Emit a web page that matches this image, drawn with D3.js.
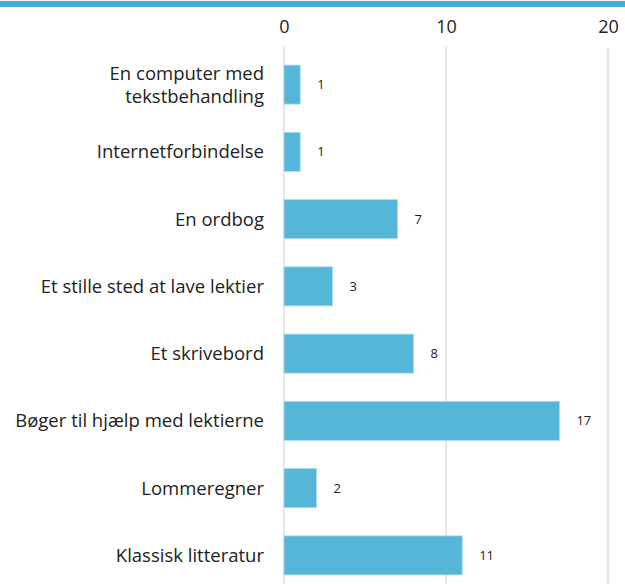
<!DOCTYPE html>
<html>
<head>
<meta charset="utf-8">
<script src="https://cdn.jsdelivr.net/npm/d3@7"></script>
<style>
  body { margin: 0; background: #fff; }
  svg { font-family: "Open Sans", sans-serif; display: block; }
</style>
</head>
<body>
<div id="chart"></div>
<script>
// data
const categories = [
  "En computer med|tekstbehandling",
  "Internetforbindelse",
  "En ordbog",
  "Et stille sted at lave lektier",
  "Et skrivebord",
  "Bøger til hjælp med lektierne",
  "Lommeregner",
  "Klassisk litteratur"
];
const values = [1, 1, 7, 3, 8, 17, 2, 11];
const xTicks = [0, 10, 20];

const width = 625, height = 584;
const margins = { top: 51, bottom: -5, left: 284, right: 17 };

const svg = d3.select("#chart")
  .append("svg")
  .attr("width", width)
  .attr("height", height);

// blue band across the top
svg.append("rect")
  .attr("x", 0).attr("y", 1)
  .attr("width", width).attr("height", 6)
  .attr("fill", "#45acd8");

const xScale = d3.scaleLinear()
  .domain([0, 20])
  .range([margins.left, width - margins.right]);

const yScale = d3.scaleBand()
  .domain(categories)
  .range([margins.top, height - margins.bottom])
  .paddingInner(0.42)
  .paddingOuter(0.21);

// gridlines
svg.append("g")
  .selectAll("line")
  .data(xTicks)
  .join("line")
  .attr("x1", d => xScale(d)).attr("x2", d => xScale(d))
  .attr("y1", 47).attr("y2", height)
  .attr("stroke", "#d9d9d9")
  .attr("stroke-width", 1.3);

// top axis labels
const xAxis = d3.axisTop(xScale).tickValues(xTicks).tickSize(0).tickPadding(0);
svg.append("g")
  .attr("class", "axis x-axis")
  .attr("transform", "translate(0,33)")
  .call(xAxis)
  .call(g => g.select(".domain").remove())
  .call(g => g.selectAll("text")
    .attr("font-family", "Open Sans, sans-serif")
    .attr("font-size", 18)
    .attr("fill", "#222"));

// bars
svg.append("g")
  .selectAll("rect")
  .data(categories)
  .join("rect")
  .attr("x", xScale(0))
  .attr("y", d => yScale(d))
  .attr("width", (d, i) => xScale(values[i]) - xScale(0))
  .attr("height", yScale.bandwidth())
  .attr("fill", "#56b6d8")
  .attr("stroke", "#a9dbee")
  .attr("stroke-width", 0.8);

// category labels
const labels = svg.append("g")
  .selectAll("text")
  .data(categories)
  .join("text")
  .attr("text-anchor", "end")
  .attr("font-size", 18.5)
  .attr("fill", "#222")
  .attr("x", xScale(0) - 20)
  .attr("y", d => yScale(d) + yScale.bandwidth() / 2);

labels.each(function(d) {
  const lines = d.split("|");
  const t = d3.select(this);
  lines.forEach((l, j) => {
    t.append("tspan")
      .attr("x", xScale(0) - 20)
      .attr("dy", j === 0 ? (0.35 - (lines.length - 1) * 0.62) + "em" : "1.24em")
      .text(l);
  });
});

// value labels
svg.append("g")
  .selectAll("text")
  .data(categories)
  .join("text")
  .attr("font-size", 13)
  .attr("fill", "#222")
  .attr("x", (d, i) => xScale(values[i]) + 17)
  .attr("y", d => yScale(d) + yScale.bandwidth() / 2)
  .attr("dy", "0.35em")
  .text((d, i) => values[i]);
</script>
</body>
</html>
